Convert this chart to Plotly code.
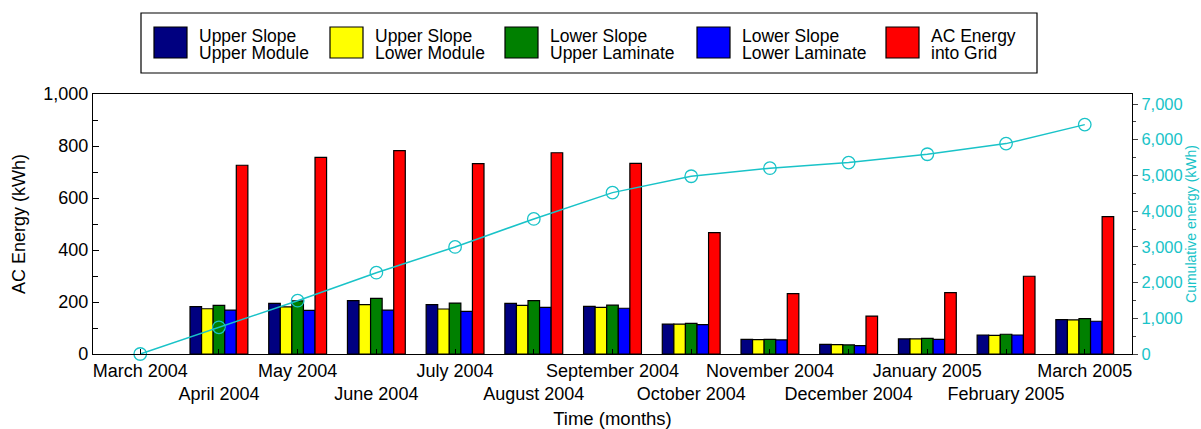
import plotly.graph_objects as go
from plotly.subplots import make_subplots

months = ["March 2004", "April 2004", "May 2004", "June 2004", "July 2004",
          "August 2004", "September 2004", "October 2004", "November 2004",
          "December 2004", "January 2005", "February 2005", "March 2005"]

upper_upper = [None, 182, 195, 205, 190, 195, 183, 115, 56, 37, 58, 73, 132]
upper_lower = [None, 174, 181, 190, 173, 187, 179, 115, 55, 36, 58, 72, 131]
lower_upper = [None, 187, 204, 214, 196, 205, 188, 118, 56, 35, 60, 76, 136]
lower_lower = [None, 169, 168, 169, 164, 179, 176, 113, 54, 32, 56, 73, 126]
ac_grid = [None, 726, 756, 782, 732, 774, 733, 467, 232, 146, 236, 299, 528]
cumulative = [0, 748, 1493, 2277, 2997, 3782, 4518, 4977, 5202, 5359, 5593, 5891, 6423]

line1 = ["Upper Slope", "Upper Slope", "Lower Slope", "Lower Slope", "AC Energy"]
line2 = ["Upper Module", "Lower Module", "Upper Laminate", "Lower Laminate", "into Grid"]
colors = ["#000080", "#ffff00", "#008000", "#0000ff", "#ff0000"]
series = [upper_upper, upper_lower, lower_upper, lower_lower, ac_grid]

cyan = "#19c3c8"
font = "Liberation Sans, Arial, sans-serif"

fig = make_subplots(specs=[[{"secondary_y": True}]])

for vals, c, a, b in zip(series, colors, line1, line2):
    fig.add_trace(
        go.Bar(
            x=months,
            y=vals,
            name=a + " " + b,
            marker=dict(color=c, line=dict(color="black", width=1.2)),
            showlegend=False
        ),
        secondary_y=False
    )

fig.add_trace(
    go.Scatter(
        x=months,
        y=cumulative,
        mode="lines+markers",
        line=dict(color=cyan, width=1.5),
        marker=dict(symbol="circle-open", size=12.5, color=cyan, line=dict(width=1.3)),
        cliponaxis=False,
        showlegend=False
    ),
    secondary_y=True
)

# pixel -> paper helpers (plot area spans x 93..1132, y 94..354)
def px_x(p):
    return (p - 93) / 1039


def px_y(p):
    return (354 - p) / 260


# hand-made legend with large swatches
shapes = [dict(type="rect", xref="paper", yref="paper",
               x0=px_x(141), x1=px_x(1037), y0=px_y(73), y1=px_y(13),
               line=dict(color="black", width=1.2), fillcolor="white", layer="above")]
annotations = []
swatch_left = [154, 330, 505, 697, 886]
for sx, c, a, b in zip(swatch_left, colors, line1, line2):
    shapes.append(dict(type="rect", xref="paper", yref="paper",
                       x0=px_x(sx), x1=px_x(sx + 33), y0=px_y(58), y1=px_y(27),
                       line=dict(color="black", width=1.2), fillcolor=c))
    for txt, yy in ((a, 36), (b, 53)):
        annotations.append(dict(xref="paper", yref="paper", x=px_x(sx + 43), y=px_y(yy),
                                text=txt, showarrow=False, xanchor="left", yanchor="middle",
                                font=dict(size=17.5, color="black", family=font)))

ticktext = [m if i % 2 == 0 else "<br>" + m for i, m in enumerate(months)]

fig.update_layout(
    width=1201,
    height=429,
    barmode="group",
    bargap=0.265,
    bargroupgap=0,
    plot_bgcolor="white",
    paper_bgcolor="white",
    font=dict(family=font, color="black"),
    margin=dict(l=93, r=69, t=94, b=75, autoexpand=False),
    showlegend=False,
    shapes=shapes,
    annotations=annotations,
    xaxis=dict(
        type="category",
        domain=[0, 1],
        range=[-0.6, 12.6],
        tickvals=months,
        ticktext=ticktext,
        tickangle=0,
        automargin=False,
        tickfont=dict(size=18, color="black"),
        ticks="inside",
        ticklen=5,
        tickcolor="black",
        showline=True,
        linecolor="black",
        linewidth=1.3,
        mirror=True,
        showgrid=False,
        title=dict(text="Time (months)", font=dict(size=18.5, color="black"), standoff=8)
    ),
    yaxis=dict(
        range=[0, 1000],
        dtick=200,
        tickformat=",",
        automargin=False,
        tickfont=dict(size=18, color="black"),
        ticks="inside",
        ticklen=6,
        tickcolor="black",
        minor=dict(ticks="inside", dtick=100, ticklen=5, tickcolor="black"),
        showline=True,
        linecolor="black",
        linewidth=1.3,
        showgrid=False,
        zeroline=False,
        title=dict(text="AC Energy (kWh)", font=dict(size=18, color="black"), standoff=12)
    ),
    yaxis2=dict(
        range=[0, 7280],
        dtick=1000,
        tickformat=",",
        automargin=False,
        tickfont=dict(size=16.5, color=cyan),
        ticks="outside",
        ticklen=5,
        tickcolor="#444",
        minor=dict(ticks="outside", dtick=500, ticklen=3, tickcolor="#444"),
        showline=True,
        linecolor="black",
        linewidth=1.3,
        showgrid=False,
        zeroline=False,
        title=dict(text="Cumulative energy (kWh)", font=dict(size=14, color=cyan), standoff=4)
    )
)

fig.write_html("out.html", config={"displayModeBar": False},
               post_script="document.body.style.margin='0px';")
